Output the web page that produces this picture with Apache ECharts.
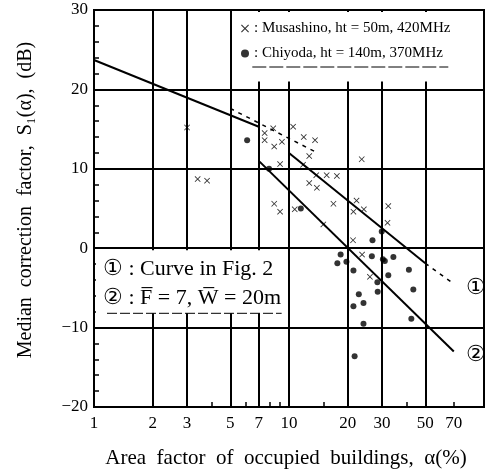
<!DOCTYPE html>
<html><head><meta charset="utf-8">
<script src="https://cdn.jsdelivr.net/npm/echarts@6/dist/echarts.min.js"></script>
<style>html,body{margin:0;padding:0;background:#fff}#c{width:494px;height:476px}</style>
</head><body><div id="c"></div>
<script>
var xGridValues = [1, 2, 3, 5, 7, 10, 20, 30, 50, 100];
var xLabelValues = [1, 2, 3, 5, 7, 10, 20, 30, 50, 70];
var xMinorValues = [4, 6, 8, 9, 15, 40, 70];
var yTicks = [-20, -10, 0, 10, 20, 30];

var musashino = [
  [3.0,15.2],[3.4,8.7],[3.8,8.5],
  [7.5,14.5],[8.3,15.1],[7.5,13.6],[8.4,12.8],[9.2,13.4],
  [10.5,15.3],[11.9,14.0],[13.6,13.6],[12.7,11.6],
  [9.0,10.6],[11.8,10.5],
  [13.8,9.2],[15.6,9.2],[17.6,9.1],
  [12.7,8.2],[13.9,7.6],
  [8.4,5.6],[9.0,4.6],[10.7,4.9],
  [16.9,5.6],[15.0,3.0],
  [23.6,11.2],[22.2,6.0],[21.4,4.6],[24.2,4.9],
  [32.3,5.3],[32.0,3.2],[21.3,1.0],[23.7,-0.8],[26.0,-3.6]
];
var chiyoda = [
  [6.1,13.6],[7.9,10.0],[11.5,5.0],
  [29.9,2.1],[26.8,1.0],
  [18.4,-0.8],[17.7,-1.9],[19.7,-1.7],[21.4,-2.8],
  [26.6,-1.0],[31.0,-1.6],[30.3,-1.4],[34.3,-1.1],
  [41.2,-2.7],[32.3,-3.4],[28.4,-4.3],[28.5,-5.5],[22.8,-5.8],[43.4,-5.2],
  [21.4,-7.3],[24.1,-6.9],[24.1,-9.5],[42.4,-8.9],[21.7,-13.6]
];
var curve1Left = [[1,23.7],[7,15.3]];
var curve1Dash = [[5,17.6],[14,12.0]];
var curve1Main = [[10,12.0],[50,-1.9]];
var curve1Tail = [[50,-1.9],[70,-4.5]];
var curve2 = [[7,11.0],[70,-13.0]];

var SERIF = '"Liberation Serif","DejaVu Serif",serif';
var crossPath = 'path://M0,1L1,0L5,4L9,0L10,1L6,5L10,9L9,10L5,6L1,10L0,9L4,5Z';
var nameM = 'Musashino, ht = 50m, 420MHz';
var nameC = 'Chiyoda, ht = 140m, 370MHz';

var chart = echarts.init(document.getElementById('c'));
function lineS(data, dashed, endText) {
  var s = {type:'line', data:data, showSymbol:false, symbol:'none', silent:true,
    lineStyle:{color:'#000', width: dashed ? 1.5 : 2, type: dashed ? [4,5] : 'solid'}, z:3};
  if (endText) s.endLabel = {show:true, formatter:endText, fontFamily:SERIF, fontSize:22, color:'#000', offset:[4,4]};
  return s;
}
chart.setOption({
  animation:false,
  grid:{left:94, right:10, top:10, bottom:69, show:true, borderColor:'#000', borderWidth:2, backgroundColor:'transparent'},
  legend:{data:[nameM, nameC], orient:'vertical', left:236, top:16, itemGap:10, itemWidth:8, itemHeight:8,
    formatter:function(n){return ': ' + n;}, textStyle:{fontFamily:SERIF, fontSize:15, color:'#000'}},
  xAxis:[{type:'log', logBase:10, min:1, max:100, gridIndex:0,
    axisLine:{show:false}, axisTick:{show:false, customValues:xGridValues},
    splitLine:{show:true, lineStyle:{color:'#000', width:2}},
    minorTick:{show:false}, minorSplitLine:{show:false},
    axisLabel:{customValues:xLabelValues, fontFamily:SERIF, fontSize:17, color:'#000', margin:8, formatter:function(v){return String(Math.round(v));}}
  },{type:'log', logBase:10, min:1, max:100, gridIndex:0, position:'bottom',
    axisLine:{show:false}, axisTick:{show:true, inside:true, length:5, customValues:xMinorValues, lineStyle:{color:'#000', width:1.5}},
    splitLine:{show:false}, axisLabel:{show:false}
  }],
  yAxis:{type:'value', min:-20, max:30, interval:10,
    axisLine:{show:false}, axisTick:{show:false, inside:true},
    minorTick:{show:true, splitNumber:5, length:5, lineStyle:{color:'#000', width:1.5}},
    splitLine:{show:true, lineStyle:{color:'#000', width:2}},
    axisLabel:{fontFamily:SERIF, fontSize:17, color:'#000', margin:6, formatter:function(v){return v < 0 ? '\u2212' + (-v) : String(v);}}
  },
  series:[
    {name:nameM, type:'scatter', data:musashino, symbol:crossPath, symbolSize:6, itemStyle:{color:'#000'}, z:4},
    {name:nameC, type:'scatter', data:chiyoda, symbol:'circle', symbolSize:6, itemStyle:{color:'#000'}, z:4},
    lineS(curve1Left, false),
    lineS(curve1Dash, true),
    lineS(curve1Main, false),
    lineS(curve1Tail, true, '\u2460'),
    lineS(curve2, false, '\u2461')
  ]
});
function px(p){ return chart.convertToPixel({xAxisIndex:0, yAxisIndex:0}, p); }
var lb0 = px([5,30]), lb1 = px([100,21]);
var bb0 = px([1,0]), bb1 = px([9.5,-8.2]);
chart.setOption({
  graphic:[
    {type:'rect', z:1, silent:true, shape:{x:lb0[0]+2, y:lb0[1]+2, width:lb1[0]-lb0[0]-4, height:lb1[1]-lb0[1]-2}, style:{fill:'#fff'}},
    {type:'line', z:5, silent:true, shape:{x1:lb0[0]+22, y1:lb0[1]+57, x2:lb0[0]+218, y2:lb0[1]+57}, style:{stroke:'#000', lineWidth:1, lineDash:[14,3]}},
    {type:'rect', z:1, silent:true, shape:{x:bb0[0]+2, y:bb0[1]+2, width:bb1[0]-bb0[0], height:bb1[1]-bb0[1]-2}, style:{fill:'#fff'}},
    {type:'text', z:5, silent:true, style:{x:bb0[0]+9, y:bb0[1]+21, text:'\u2460 : Curve in Fig. 2', fontFamily:SERIF, fontSize:22, fill:'#000', verticalAlign:'middle'}},
    {type:'text', z:5, silent:true, style:{x:bb0[0]+9, y:bb0[1]+50, text:'\u2461 : F\u0305 = 7, W\u0305 = 20m', fontFamily:SERIF, fontSize:22, fill:'#000', verticalAlign:'middle'}},
    {type:'line', z:5, silent:true, shape:{x1:bb0[0]+13, y1:bb1[1], x2:bb1[0]-3, y2:bb1[1]}, style:{stroke:'#000', lineWidth:1, lineDash:[10,3]}},
    {type:'text', z:5, silent:true, x:26, y:200, rotation:Math.PI/2, style:{x:0, y:0, text:'Median  correction  factor,  S\u2081(\u03b1),  (dB)', fontFamily:SERIF, fontSize:20, fill:'#000', align:'center', verticalAlign:'middle'}},
    {type:'text', z:5, silent:true, style:{x:286, y:458, text:'Area  factor  of  occupied  buildings,  \u03b1(%)', fontFamily:SERIF, fontSize:21, fill:'#000', align:'center', verticalAlign:'middle'}}
  ]
});
</script></body></html>
